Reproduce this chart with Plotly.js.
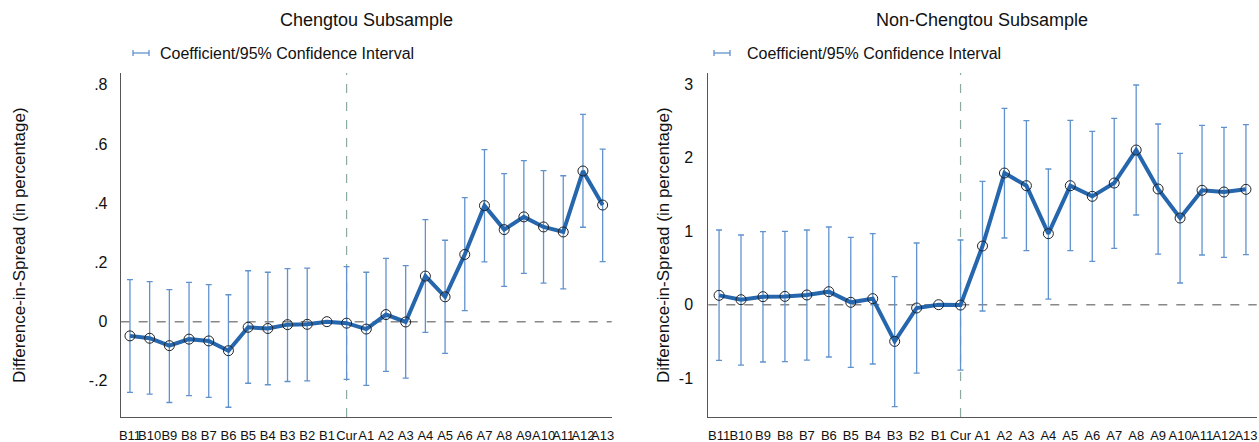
<!DOCTYPE html>
<html>
<head>
<meta charset="utf-8">
<script src="https://cdn.plot.ly/plotly-3.0.1.min.js"></script>
<style>html,body{margin:0;padding:0;background:#fff;}#chart{width:1259px;height:442px;}</style>
</head>
<body>
<div id="chart"></div>
<script>
const categories = ["B11","B10","B9","B8","B7","B6","B5","B4","B3","B2","B1","Cur","A1","A2","A3","A4","A5","A6","A7","A8","A9","A10","A11","A12","A13"];

// Chengtou subsample
const chengCoef  = [-0.048,-0.056,-0.081,-0.059,-0.065,-0.098,-0.019,-0.023,-0.010,-0.009,0.000,-0.005,-0.025,0.024,-0.001,0.154,0.084,0.227,0.392,0.311,0.354,0.320,0.303,0.509,0.394];
const chengUpper = [0.142,0.135,0.108,0.133,0.125,0.091,0.172,0.167,0.179,0.181,0.000,0.186,0.167,0.214,0.189,0.345,0.275,0.419,0.581,0.500,0.544,0.510,0.493,0.700,0.583];
const chengLower = [-0.239,-0.245,-0.273,-0.250,-0.256,-0.289,-0.208,-0.213,-0.202,-0.200,0.000,-0.195,-0.215,-0.168,-0.191,-0.036,-0.107,0.037,0.202,0.119,0.163,0.130,0.111,0.319,0.203];

// Non-Chengtou subsample
const nonCoef  = [0.127,0.068,0.109,0.113,0.132,0.177,0.032,0.082,-0.499,-0.045,0.000,-0.005,0.798,1.791,1.619,0.966,1.619,1.474,1.655,2.104,1.574,1.179,1.556,1.533,1.569];
const nonUpper = [1.016,0.948,0.993,0.998,1.016,1.057,0.916,0.966,0.381,0.839,0.000,0.880,1.678,2.671,2.503,1.846,2.508,2.358,2.535,2.989,2.458,2.059,2.440,2.413,2.449];
const nonLower = [-0.757,-0.821,-0.780,-0.776,-0.753,-0.712,-0.853,-0.807,-1.388,-0.930,0.000,-0.889,-0.086,0.907,0.735,0.077,0.735,0.590,0.766,1.220,0.689,0.295,0.676,0.644,0.680];

const leftTickVals = [-0.2,0,0.2,0.4,0.6,0.8];
const leftTickText = ["-.2","0",".2",".4",".6",".8"];
const rightTickVals = [-1,0,1,2,3];
const rightTickText = ["-1","0","1","2","3"];

const panelTitles = ["Chengtou Subsample","Non-Chengtou Subsample"];
const legendLabel = "Coefficient/95% Confidence Interval";
const yTitle = "Difference-in-Spread (in percentage)";
const refCategory = "Cur";

const LINE = "rgb(38,102,172)";
const ERR = "rgb(96,146,206)";
const FONT = "Liberation Sans, Arial, sans-serif";

function traces(coef, up, lo, xa, ya){
  const plus = up.map((u,i)=>u-coef[i]);
  const minus = lo.map((l,i)=>coef[i]-l);
  return [{
    type:"scatter", mode:"lines+markers", x:categories, y:coef, xaxis:xa, yaxis:ya,
    line:{color:LINE,width:4},
    marker:{symbol:"circle",size:10,color:"rgba(38,102,172,0.0)",line:{color:"#222",width:1}},
    error_y:{type:"data",symmetric:false,array:plus,arrayminus:minus,color:ERR,thickness:1.3,width:3},
    showlegend:false, hoverinfo:"skip"
  }];
}

const W=1259,H=442;
const px = v=>v/W, py = v=>1-v/H;

const data = [...traces(chengCoef,chengUpper,chengLower,"x","y"), ...traces(nonCoef,nonUpper,nonLower,"x2","y2")];

const axisCommon = {showgrid:false,zeroline:false,showline:true,linecolor:"#555",linewidth:1,ticks:"",
  tickfont:{family:FONT,size:16,color:"#111"},fixedrange:true};
const xCommon = {...axisCommon, type:"category", tickfont:{family:FONT,size:13,color:"#111"}, tickangle:0};

const vline = (xr, yr) => ({type:"line",xref:xr,yref:yr+" domain",x0:categories.indexOf(refCategory),x1:categories.indexOf(refCategory),y0:0,y1:1,line:{color:"rgb(140,170,160)",width:1.2,dash:"dash"},layer:"below"});
const hline = (xr, yr) => ({type:"line",xref:xr+" domain",yref:yr,x0:0,x1:1,y0:0,y1:0,line:{color:"#888",width:1.5,dash:"dash"},layer:"below"});
const legSym = (x0,x1,y) => [
  {type:"line",xref:"paper",yref:"paper",x0:px(x0),x1:px(x1),y0:py(y),y1:py(y),line:{color:ERR,width:1.3}},
  {type:"line",xref:"paper",yref:"paper",x0:px(x0),x1:px(x0),y0:py(y-3),y1:py(y+3),line:{color:ERR,width:1.3}},
  {type:"line",xref:"paper",yref:"paper",x0:px(x1),x1:px(x1),y0:py(y-3),y1:py(y+3),line:{color:ERR,width:1.3}}
];
const ann = (text,x,y,xa,size,angle) => ({text,xref:"paper",yref:"paper",x:px(x),y:py(y),xanchor:xa,yanchor:"middle",showarrow:false,textangle:angle||0,font:{family:FONT,size,color:"#111"}});

const layout = {
  width:W,height:H,margin:{l:0,r:0,t:0,b:0},paper_bgcolor:"#fff",plot_bgcolor:"#fff",
  font:{family:FONT,color:"#111"},showlegend:false,
  xaxis:{...xCommon,domain:[px(120.7),px(611.7)],range:[-0.47,24.46],anchor:"y",ticklabelstandoff:6},
  yaxis:{...axisCommon,domain:[py(417),py(73)],range:[-0.322,0.840],tickvals:leftTickVals,ticktext:leftTickText,anchor:"x",ticklabelstandoff:9},
  xaxis2:{...xCommon,domain:[px(708.3),px(1256.7)],range:[-0.49,24.49],anchor:"y2",ticklabelstandoff:6},
  yaxis2:{...axisCommon,domain:[py(417),py(73)],range:[-1.528,3.152],tickvals:rightTickVals,ticktext:rightTickText,anchor:"x2",ticklabelstandoff:11},
  shapes:[vline("x","y"),hline("x","y"),vline("x2","y2"),hline("x2","y2"),...legSym(133,149,53),...legSym(714,730,53)],
  annotations:[
    ann(panelTitles[0],366,20,"center",18),
    ann(panelTitles[1],982,20,"center",18),
    ann(legendLabel,158,53,"left",16),
    ann(legendLabel,745,53,"left",16),
    ann(yTitle,19,245,"center",17,-90),
    ann(yTitle,663,245,"center",17,-90)
  ]
};

Plotly.newPlot("chart",data,layout,{displayModeBar:false,staticPlot:true});
</script>
</body>
</html>
